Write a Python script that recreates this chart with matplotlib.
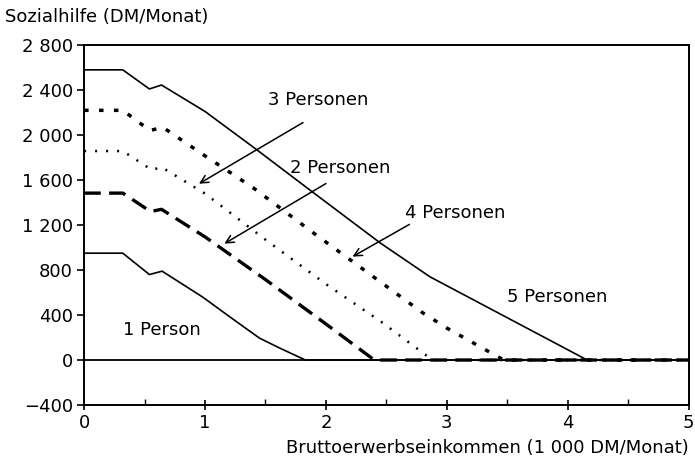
import numpy as np
import matplotlib
matplotlib.use('Agg')
import matplotlib.pyplot as plt

plt.rcParams['font.family'] = ['DejaVu Sans']

# Sozialhilfe je Haushaltsgroesse (x in 1000 DM/Monat, y in DM/Monat)
p1_x = [0, 0.32, 0.54, 0.645, 0.98, 1.21, 1.45, 1.62, 1.83, 5.0]
p1_y = [950, 950, 760, 790, 560, 380, 195, 105, 0, 0]

p2_x = [0, 0.32, 0.55, 0.64, 1.0, 1.5, 2.0, 2.4, 5.0]
p2_y = [1484, 1484, 1320, 1340, 1095, 715, 320, 0, 0]

p3_x = [0, 0.32, 0.56, 0.64, 1.0, 1.5, 2.0, 2.47, 2.88, 5.0]
p3_y = [1858, 1858, 1690, 1715, 1480, 1070, 675, 330, 0, 0]

p4_x = [0, 0.32, 0.545, 0.65, 1.0, 1.4, 1.89, 2.8, 3.0, 3.47, 5.0]
p4_y = [2220, 2220, 2040, 2070, 1815, 1530, 1135, 420, 284, 0, 0]

p5_x = [0, 0.32, 0.54, 0.64, 1.0, 1.41, 1.89, 2.45, 2.86, 4.16, 5.0]
p5_y = [2580, 2580, 2410, 2445, 2210, 1884, 1493, 1040, 740, 0, 0]

y_ticks = [-400, 0, 400, 800, 1200, 1600, 2000, 2400, 2800]
y_labels = ['\u2212400', '0', '400', '800', '1 200', '1 600', '2 000', '2 400', '2 800']

fig = plt.figure(figsize=(6.95, 4.65), dpi=100)
ax = fig.add_axes([0.121, 0.129, 0.870, 0.774])

ax.axhline(0, color='black', lw=1.3)
ax.plot(p1_x, p1_y, color='black', lw=1.2)
ax.plot(p2_x, p2_y, color='black', lw=2.4, linestyle=(0, (5, 2.5)))
ax.plot(p3_x, p3_y, color='black', lw=1.8, linestyle=(0, (0.8, 3.6)))
ax.plot(p4_x, p4_y, color='black', lw=2.5, linestyle=(0, (1.3, 3.0)))
ax.plot(p5_x, p5_y, color='black', lw=1.2)

ax.set_xlim(0, 5)
ax.set_ylim(-400, 2800)
ax.set_xticks(range(6))
ax.set_xticks(np.arange(0.5, 5, 1.0), minor=True)
ax.set_yticks(y_ticks)
ax.set_yticklabels(y_labels)
ax.tick_params(axis='x', which='major', direction='inout', length=7, width=1.2, labelsize=13, pad=3)
ax.tick_params(axis='x', which='minor', direction='in', length=4, width=1.0)
ax.tick_params(axis='y', direction='out', length=5, width=1.2, labelsize=13, pad=3)
for s in ax.spines.values():
    s.set_linewidth(1.4)

fs = 13
arrow = dict(arrowstyle='->', color='black', lw=1.1, mutation_scale=14)
ax.annotate('', xy=(0.93, 1555), xytext=(1.83, 2124), arrowprops=arrow)
ax.annotate('', xy=(1.14, 1022), xytext=(2.02, 1582), arrowprops=arrow)
ax.annotate('', xy=(2.20, 907), xytext=(2.71, 1218), arrowprops=arrow)

ax.text(1.52, 2311, '3 Personen', fontsize=fs, va='center', ha='left')
ax.text(1.70, 1707, '2 Personen', fontsize=fs, va='center', ha='left')
ax.text(2.65, 1307, '4 Personen', fontsize=fs, va='center', ha='left')
ax.text(3.50, 560, '5 Personen', fontsize=fs, va='center', ha='left')
ax.text(0.32, 267, '1 Person', fontsize=fs, va='center', ha='left')

fig.text(0.007, 0.963, 'Sozialhilfe (DM/Monat)', fontsize=fs, va='center', ha='left')
fig.text(0.991, 0.037, 'Bruttoerwerbseinkommen (1 000 DM/Monat)', fontsize=fs, va='center', ha='right')

fig.savefig('out.png', dpi=100)
